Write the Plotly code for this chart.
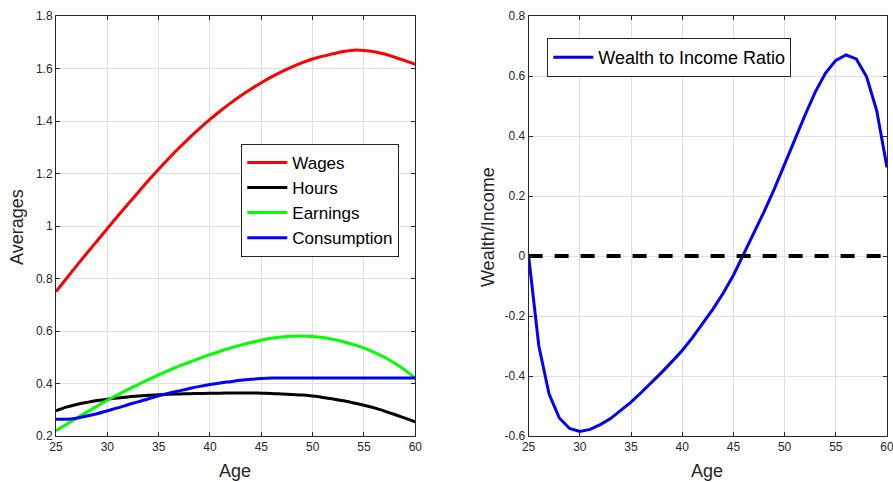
import plotly.graph_objects as go

ages = list(range(25, 61))

wages = [0.750, 0.799, 0.848, 0.896, 0.943, 0.990, 1.037, 1.083, 1.128, 1.173, 1.216,
         1.258, 1.298, 1.336, 1.372, 1.406, 1.438, 1.468, 1.496, 1.522, 1.546,
         1.568, 1.588, 1.606, 1.622, 1.636, 1.647, 1.656, 1.665, 1.670, 1.669,
         1.664, 1.655, 1.643, 1.630, 1.616]

hours = [0.296, 0.310, 0.320, 0.328, 0.335, 0.340, 0.345, 0.349, 0.352, 0.355, 0.357,
         0.359, 0.360, 0.361, 0.362, 0.363, 0.363, 0.364, 0.364, 0.364, 0.363,
         0.362, 0.360, 0.358, 0.356, 0.352, 0.347, 0.341, 0.334, 0.326, 0.317,
         0.307, 0.295, 0.282, 0.268, 0.254]

earnings = [0.220, 0.244, 0.268, 0.291, 0.314, 0.336, 0.357, 0.377, 0.396, 0.415, 0.433,
            0.450, 0.466, 0.481, 0.496, 0.510, 0.523, 0.535, 0.546, 0.556, 0.565,
            0.572, 0.577, 0.580, 0.581, 0.579, 0.575, 0.568, 0.559, 0.548, 0.535,
            0.519, 0.500, 0.477, 0.451, 0.420]

consumption = [0.264, 0.264, 0.268, 0.276, 0.285, 0.296, 0.307, 0.319, 0.330, 0.342, 0.353,
               0.363, 0.372, 0.381, 0.389, 0.396, 0.402, 0.407, 0.412, 0.416, 0.419,
               0.421, 0.421, 0.421, 0.421, 0.421, 0.421, 0.421, 0.421, 0.421, 0.421,
               0.421, 0.421, 0.421, 0.421, 0.421]

wealth_income = [0.0, -0.30, -0.46, -0.54, -0.575, -0.585, -0.578, -0.562, -0.542, -0.516, -0.487,
                 -0.455, -0.422, -0.388, -0.352, -0.315, -0.272, -0.226, -0.177, -0.124, -0.064,
                 0.006, 0.075, 0.148, 0.224, 0.303, 0.388, 0.470, 0.547, 0.610, 0.652,
                 0.670, 0.657, 0.598, 0.484, 0.295]

zero_line = [0.0 for _ in ages]

x_ticks = [25, 30, 35, 40, 45, 50, 55, 60]
left_y_ticks = [0.2, 0.4, 0.6, 0.8, 1.0, 1.2, 1.4, 1.6, 1.8]
left_y_labels = ["0.2", "0.4", "0.6", "0.8", "1", "1.2", "1.4", "1.6", "1.8"]
right_y_ticks = [-0.6, -0.4, -0.2, 0.0, 0.2, 0.4, 0.6, 0.8]
right_y_labels = ["-0.6", "-0.4", "-0.2", "0", "0.2", "0.4", "0.6", "0.8"]

W, H = 893, 482
ML, MR, MT, MB = 55.7, 6.3, 16.0, 45.5
PW = W - ML - MR
PH = H - MT - MB


def px_x(px):
    return (px - ML) / PW


def px_y(py):
    return (H - py - MB) / PH


FONT = "Liberation Sans, Arial, sans-serif"
AX = "#262626"
GRID = "#e0e0e0"

fig = go.Figure()

for name, vals, col in [("Wages", wages, "#ff0000"), ("Hours", hours, "#000000"),
                        ("Earnings", earnings, "#00ff00"), ("Consumption", consumption, "#0000ff")]:
    fig.add_trace(go.Scatter(x=ages, y=vals, name=name, mode="lines",
                             line=dict(color=col, width=3, shape="spline", smoothing=1.0),
                             xaxis="x", yaxis="y", legend="legend"))

fig.add_trace(go.Scatter(x=ages, y=wealth_income, name="Wealth to Income Ratio", mode="lines",
                         line=dict(color="#0000ff", width=3),
                         xaxis="x2", yaxis="y2", legend="legend2"))
fig.add_trace(go.Scatter(x=ages, y=zero_line, mode="lines", showlegend=False,
                         line=dict(color="#000000", width=4, dash="14px,12px"),
                         xaxis="x2", yaxis="y2"))

axis_common = dict(showline=True, linecolor=AX, linewidth=1, mirror="ticks",
                   ticks="inside", ticklen=4, tickcolor=AX, showgrid=True,
                   gridcolor=GRID, gridwidth=1, zeroline=False, automargin=False,
                   ticklabeloverflow="allow",
                   tickfont=dict(family=FONT, size=12, color=AX))

x_left_end = px_x(415)
x_right_start = px_x(528.3)

fig.update_layout(
    width=W, height=H,
    margin=dict(l=ML, r=MR, t=MT, b=MB, autoexpand=False),
    plot_bgcolor="white", paper_bgcolor="white",
    font=dict(family=FONT, color=AX),
    xaxis=dict(domain=[0, x_left_end], range=[25, 60], tickvals=x_ticks, anchor="y", **axis_common),
    yaxis=dict(domain=[0, 1], range=[0.2, 1.8], tickvals=left_y_ticks, ticktext=left_y_labels,
               anchor="x", **axis_common),
    xaxis2=dict(domain=[x_right_start, 1], range=[25, 60], tickvals=x_ticks, anchor="y2", **axis_common),
    yaxis2=dict(domain=[0, 1], range=[-0.6, 0.8], tickvals=right_y_ticks, ticktext=right_y_labels,
                anchor="x2", **axis_common),
    legend=dict(x=px_x(241), y=px_y(144), xanchor="left", yanchor="top",
                bgcolor="white", bordercolor=AX, borderwidth=1,
                font=dict(family=FONT, size=17, color="#000000"),
                tracegroupgap=0, itemwidth=40),
    legend2=dict(x=px_x(547), y=px_y(38), xanchor="left", yanchor="top",
                 bgcolor="white", bordercolor=AX, borderwidth=1,
                 font=dict(family=FONT, size=18, color="#000000"), itemwidth=40),
    annotations=[
        dict(text="Age", xref="paper", yref="paper", x=px_x(235), y=px_y(472),
             xanchor="center", yanchor="middle",
             showarrow=False, font=dict(family=FONT, size=18, color=AX)),
        dict(text="Age", xref="paper", yref="paper", x=px_x(707), y=px_y(472),
             xanchor="center", yanchor="middle",
             showarrow=False, font=dict(family=FONT, size=18, color=AX)),
        dict(text="Averages", xref="paper", yref="paper", x=px_x(16), y=px_y(227),
             xanchor="center", yanchor="middle",
             showarrow=False, textangle=-90, font=dict(family=FONT, size=18, color=AX)),
        dict(text="Wealth/Income", xref="paper", yref="paper", x=px_x(487), y=px_y(227),
             xanchor="center", yanchor="middle",
             showarrow=False, textangle=-90, font=dict(family=FONT, size=18, color=AX)),
    ],
)

fig.write_html(
    "out.html",
    config={"displayModeBar": False},
    post_script="document.body.style.margin='0';document.body.style.overflow='hidden';",
)
